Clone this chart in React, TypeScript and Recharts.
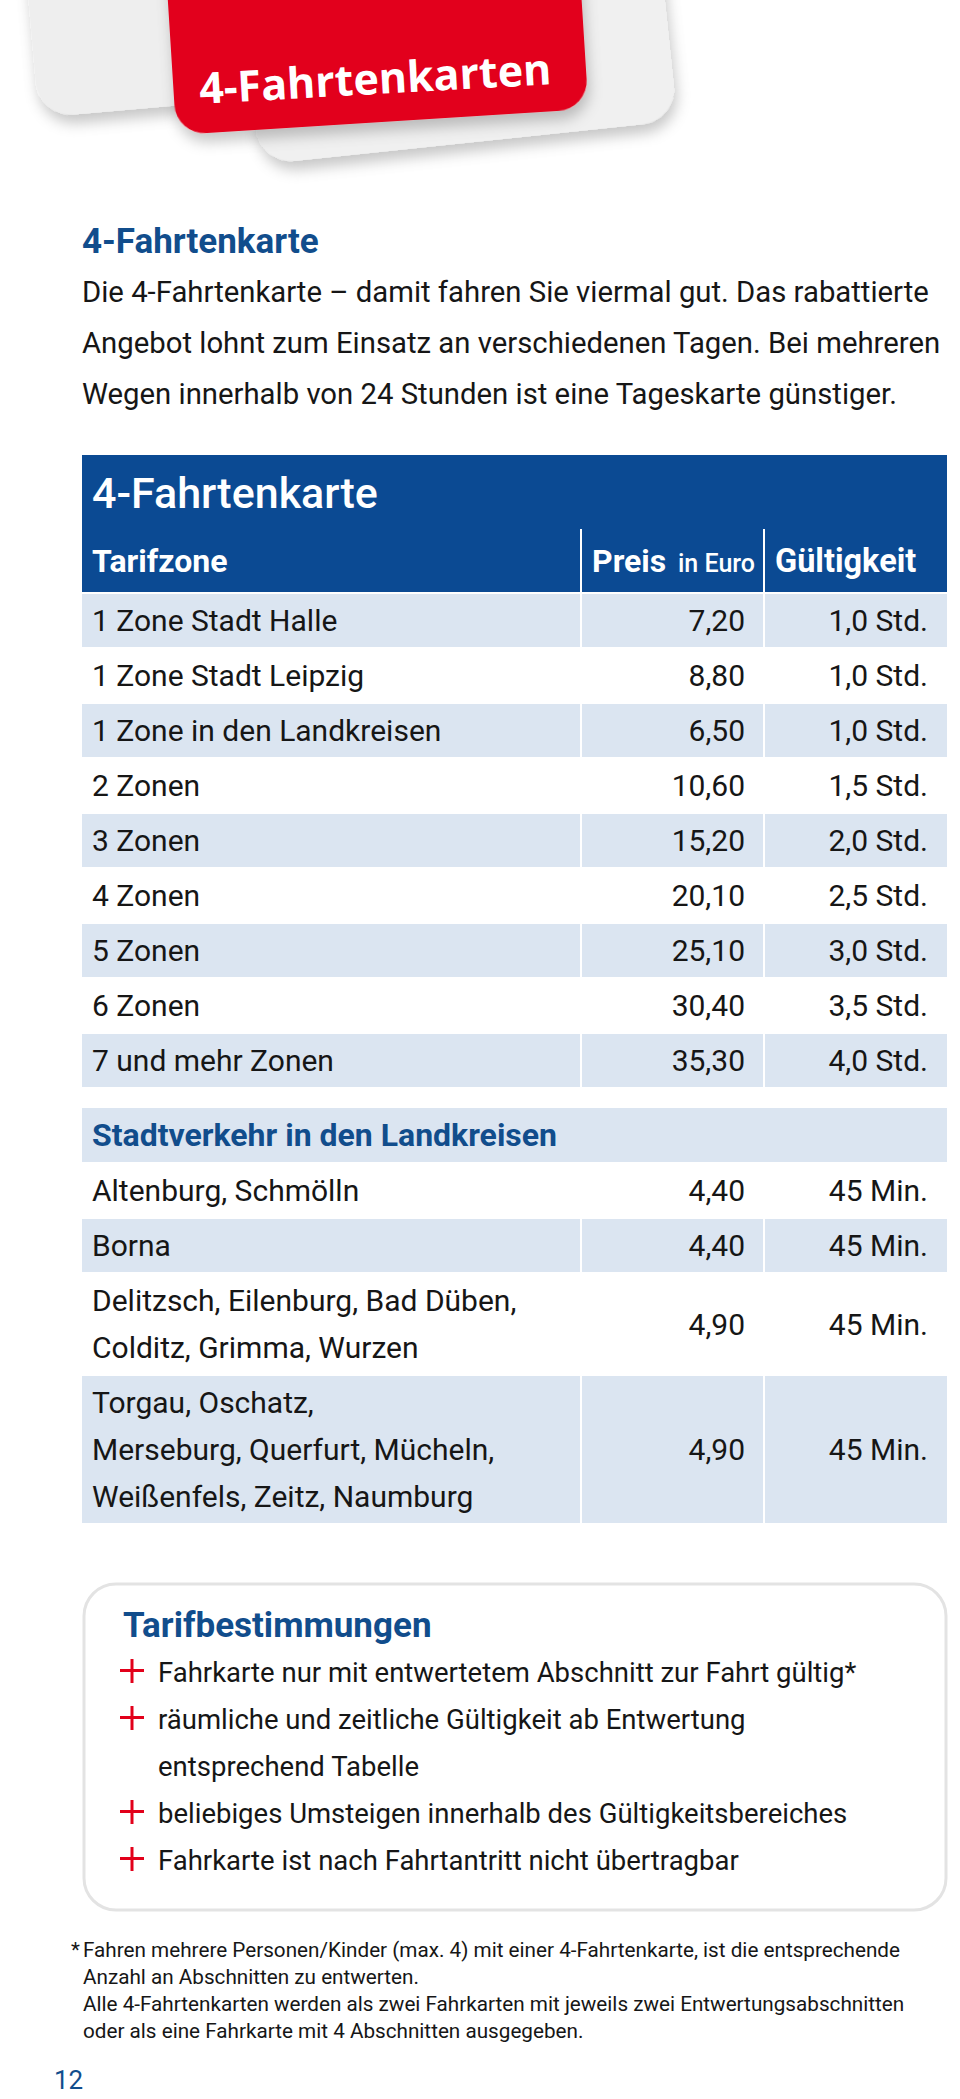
import { Surface, Layer, Rectangle, Text } from "recharts";

const zoneNames = [
  "1 Zone Stadt Halle",
  "1 Zone Stadt Leipzig",
  "1 Zone in den Landkreisen",
  "2 Zonen",
  "3 Zonen",
  "4 Zonen",
  "5 Zonen",
  "6 Zonen",
  "7 und mehr Zonen",
];
const zonePrices = ["7,20", "8,80", "6,50", "10,60", "15,20", "20,10", "25,10", "30,40", "35,30"];
const zoneValidity = ["1,0 Std.", "1,0 Std.", "1,0 Std.", "1,5 Std.", "2,0 Std.", "2,5 Std.", "3,0 Std.", "3,5 Std.", "4,0 Std."];

const cityNames = [
  ["Altenburg, Schmölln"],
  ["Borna"],
  ["Delitzsch, Eilenburg, Bad Düben,", "Colditz, Grimma, Wurzen"],
  ["Torgau, Oschatz,", "Merseburg, Querfurt, Mücheln,", "Weißenfels, Zeitz, Naumburg"],
];
const cityPrices = ["4,40", "4,40", "4,90", "4,90"];
const cityValidity = ["45 Min.", "45 Min.", "45 Min.", "45 Min."];

const introLines = [
  "Die 4-Fahrtenkarte – damit fahren Sie viermal gut. Das rabattierte",
  "Angebot lohnt zum Einsatz an verschiedenen Tagen. Bei mehreren",
  "Wegen innerhalb von 24 Stunden ist eine Tageskarte günstiger.",
];

const ruleItems = [
  ["Fahrkarte nur mit entwertetem Abschnitt zur Fahrt gültig*"],
  ["räumliche und zeitliche Gültigkeit ab Entwertung", "entsprechend Tabelle"],
  ["beliebiges Umsteigen innerhalb des Gültigkeitsbereiches"],
  ["Fahrkarte ist nach Fahrtantritt nicht übertragbar"],
];

const footnoteLines = [
  "Fahren mehrere Personen/Kinder (max. 4) mit einer 4-Fahrtenkarte, ist die entsprechende",
  "Anzahl an Abschnitten zu entwerten.",
  "Alle 4-Fahrtenkarten werden als zwei Fahrkarten mit jeweils zwei Entwertungsabschnitten",
  "oder als eine Fahrkarte mit 4 Abschnitten ausgegeben.",
];

const FONT = "Roboto, 'Noto Sans', sans-serif";
const DARK_BLUE = "#0b4a93";
const HEAD_BLUE = "#114d8c";
const LIGHT = "#dbe5f1";
const RED = "#e2001a";
const INK = "#161616";

const W = 960;
const H = 2099;
const TL = 82;
const TR = 947;
const DIV1 = 581;
const DIV2 = 764;
const PRICE_X = 745;
const VALID_X = 928;
const TEXT_X = 92;
const ROW_H = 55;
const LINE_H = 47;
const ROW_FS = 30;

function ShadedRow({ y, h, split = true }: { y: number; h: number; split?: boolean }) {
  if (!split) return <Rectangle x={TL} y={y} width={TR - TL} height={h} fill={LIGHT} />;
  return (
    <Layer>
      <Rectangle x={TL} y={y} width={DIV1 - 1 - TL} height={h} fill={LIGHT} />
      <Rectangle x={DIV1 + 1} y={y} width={DIV2 - DIV1 - 2} height={h} fill={LIGHT} />
      <Rectangle x={DIV2 + 1} y={y} width={TR - DIV2 - 1} height={h} fill={LIGHT} />
    </Layer>
  );
}

function Label(props: any) {
  return <Text fontFamily={FONT} fill={INK} fontSize={26} {...props} />;
}

export default function App() {
  const zoneTop = 594;
  const cityTop = 1164;
  let cy = cityTop;
  const cityRows = cityNames.map((lines, i) => {
    const h = ROW_H + (lines.length - 1) * LINE_H;
    const row = { y: cy, h, lines, i };
    cy += h;
    return row;
  });

  let ry = 1672;
  const ruleRows = ruleItems.map((lines) => {
    const row = { y: ry, lines };
    ry += lines.length * 47;
    return row;
  });

  return (
    <div style={{ position: "absolute", left: 0, top: 0, width: W, height: H, background: "#fff" }}>
      <Surface width={W} height={H}>
        <defs>
          <filter id="cardShadow" x="-20%" y="-20%" width="140%" height="160%">
            <feDropShadow dx="2" dy="9" stdDeviation="7" floodColor="#000" floodOpacity="0.22" />
          </filter>
        </defs>

        {/* cards in the corner */}
        <Layer transform="rotate(-5 100 60)">
          <Rectangle x={34} y={-150} width={284} height={262} radius={36} fill="#eeeeee" filter="url(#cardShadow)" />
        </Layer>
        <Layer transform="rotate(-6 470 60)">
          <Rectangle x={250} y={-200} width={420} height={342} radius={36} fill="#f0f0f0" filter="url(#cardShadow)" />
        </Layer>
        <Layer transform="rotate(-3.6 380 60)">
          <Rectangle x={172} y={-120} width={413} height={242} radius={30} fill={RED} filter="url(#cardShadow)" />
        </Layer>
        <Text
          x={376}
          y={94}
          textAnchor="middle"
          angle={-3.2}
          fontFamily="'Open Sans', Roboto, sans-serif"
          fontWeight={700}
          fontSize={43}
          fill="#fff"
        >
          4-Fahrtenkarten
        </Text>

        {/* intro */}
        <Label x={82} y={253} fontSize={35} fontWeight={700} fill={HEAD_BLUE}>
          4-Fahrtenkarte
        </Label>
        {introLines.map((t, i) => (
          <Label key={t} x={82} y={302 + i * 51} fontSize={29.3}>
            {t}
          </Label>
        ))}

        {/* fare table header */}
        <Rectangle x={TL} y={455} width={TR - TL} height={137} fill={DARK_BLUE} />
        <Rectangle x={DIV1 - 1} y={529} width={2} height={63} fill="#fff" />
        <Rectangle x={DIV2 - 1} y={529} width={2} height={63} fill="#fff" />
        <Label x={TEXT_X} y={508} fontSize={43} fontWeight={500} fill="#fff">
          4-Fahrtenkarte
        </Label>
        <Label x={TEXT_X} y={572} fontSize={32} fontWeight={700} fill="#fff">
          Tarifzone
        </Label>
        <Label x={592} y={572} fontSize={32} fontWeight={700} fill="#fff">
          Preis
        </Label>
        <Label x={755} y={572} textAnchor="end" fontSize={25} fontWeight={500} fill="#fff">
          in Euro
        </Label>
        <Label x={775} y={572} fontSize={32.5} fontWeight={700} fill="#fff">
          Gültigkeit
        </Label>

        {/* fare rows */}
        {zoneNames.map((name, i) => {
          const y = zoneTop + i * ROW_H;
          const base = y + 37;
          return (
            <Layer key={name}>
              {i % 2 === 0 && <ShadedRow y={y} h={ROW_H - 2} />}
              <Label x={TEXT_X} y={base} fontSize={ROW_FS}>
                {name}
              </Label>
              <Label x={PRICE_X} y={base} textAnchor="end" fontSize={ROW_FS}>
                {zonePrices[i]}
              </Label>
              <Label x={VALID_X} y={base} textAnchor="end" fontSize={ROW_FS}>
                {zoneValidity[i]}
              </Label>
            </Layer>
          );
        })}

        {/* city traffic */}
        <ShadedRow y={1108} h={54} split={false} />
        <Label x={TEXT_X} y={1146} fontSize={32} fontWeight={700} fill={HEAD_BLUE}>
          Stadtverkehr in den Landkreisen
        </Label>
        {cityRows.map((r) => {
          const mid = r.y + (r.h - 2) / 2;
          const first = mid - ((r.lines.length - 1) * LINE_H) / 2;
          return (
            <Layer key={r.i}>
              {r.i % 2 === 1 && <ShadedRow y={r.y} h={r.h - 2} />}
              {r.lines.map((t, k) => (
                <Label key={t} x={TEXT_X} y={first + k * LINE_H + 10.5} fontSize={ROW_FS}>
                  {t}
                </Label>
              ))}
              <Label x={PRICE_X} y={mid + 10.5} textAnchor="end" fontSize={ROW_FS}>
                {cityPrices[r.i]}
              </Label>
              <Label x={VALID_X} y={mid + 10.5} textAnchor="end" fontSize={ROW_FS}>
                {cityValidity[r.i]}
              </Label>
            </Layer>
          );
        })}

        {/* Tarifbestimmungen */}
        <Rectangle x={84} y={1584} width={862} height={326} radius={32} fill="#fff" stroke="#e3e3e3" strokeWidth={3} />
        <Label x={123} y={1637} fontSize={35} fontWeight={700} fill={HEAD_BLUE}>
          Tarifbestimmungen
        </Label>
        {ruleRows.map((r) => (
          <Layer key={r.y}>
            <Rectangle x={120} y={r.y - 3} width={24} height={3} fill={RED} />
            <Rectangle x={130.5} y={r.y - 13} width={3} height={24} fill={RED} />
            {r.lines.map((t, k) => (
              <Label key={t} x={158} y={r.y + 10 + k * 47} fontSize={27.5}>
                {t}
              </Label>
            ))}
          </Layer>
        ))}

        {/* footnote */}
        <Label x={71} y={1957} fontSize={20.7}>
          *
        </Label>
        {footnoteLines.map((t, i) => (
          <Label key={t} x={83} y={1957 + i * 27} fontSize={20.7}>
            {t}
          </Label>
        ))}
        <Label x={54} y={2089} fontSize={26} fill={HEAD_BLUE}>
          12
        </Label>
      </Surface>
    </div>
  );
}
